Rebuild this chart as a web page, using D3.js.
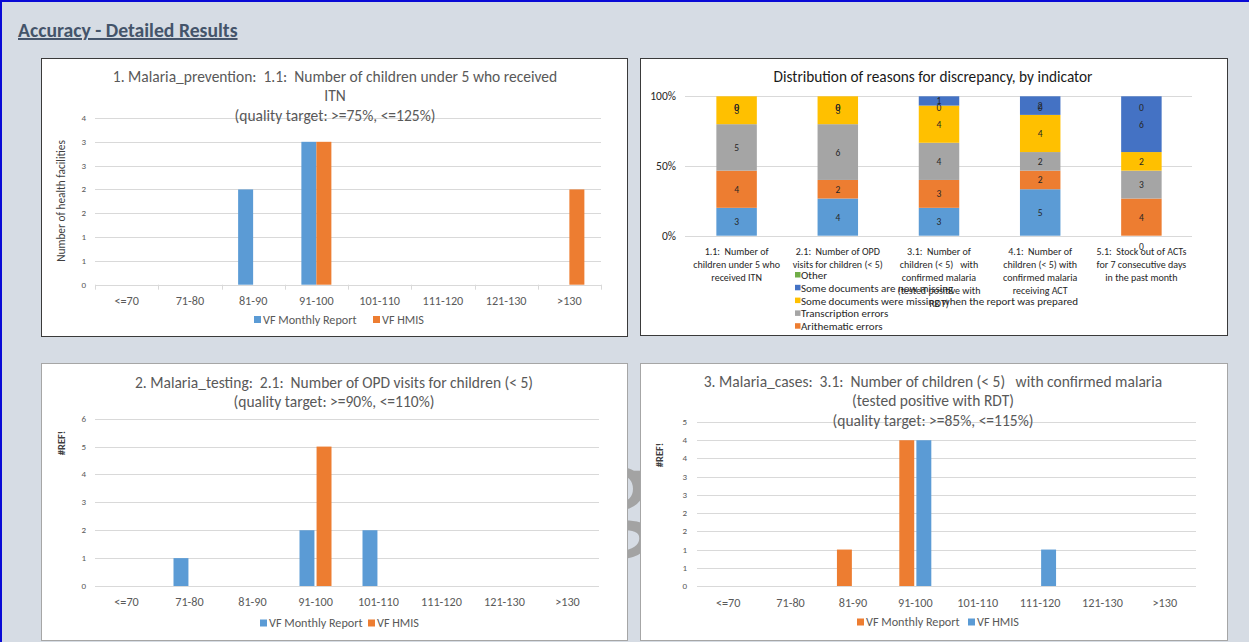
<!DOCTYPE html>
<html><head><meta charset="utf-8">
<script src="https://cdn.jsdelivr.net/npm/d3@7"></script>
<style>
body{margin:0;background:#d6dce4;}
svg{display:block;}
text{font-family:Carlito,Lato,"Noto Sans",sans-serif;white-space:pre;}
</style>
</head><body>
<svg id="c" width="1249" height="642"></svg>
<script>
// ---------------- DATA ----------------
const bins = ["<=70","71-80","81-90","91-100","101-110","111-120","121-130",">130"];

// Chart 1: Malaria_prevention
const c1Title = ["1. Malaria_prevention:  1.1:  Number of children under 5 who received","ITN","(quality target: >=75%, <=125%)"];
const c1SeriesNames = ["VF Monthly Report","VF HMIS"];
const c1Monthly = [0,0,2,3,0,0,0,0];
const c1Hmis    = [0,0,0,3,0,0,0,2];
const c1YTicks = [0,0.5,1,1.5,2,2.5,3,3.5];
const c1YTickLabels = ["0","1","1","2","2","3","3","4"];
const c1YLabel = "Number of health facilities";

// Chart 2: Malaria_testing
const c2Title = ["2. Malaria_testing:  2.1:  Number of OPD visits for children (< 5)","(quality target: >=90%, <=110%)"];
const c2SeriesNames = ["VF Monthly Report","VF HMIS"];
const c2Monthly = [0,1,0,2,2,0,0,0];
const c2Hmis    = [0,0,0,5,0,0,0,0];
const c2YTicks = [0,1,2,3,4,5,6];
const c2YTickLabels = ["0","1","2","3","4","5","6"];
const c2YLabel = "#REF!";

// Chart 3: Malaria_cases
const c3Title = ["3. Malaria_cases:  3.1:  Number of children (< 5)   with confirmed malaria","(tested positive with RDT)","(quality target: >=85%, <=115%)"];
const c3SeriesNames = ["VF Monthly Report","VF HMIS"];
const c3Monthly = [0,0,1,4,0,0,0,0];
const c3Hmis    = [0,0,0,4,0,1,0,0];
const c3YTicks = [0,0.5,1,1.5,2,2.5,3,3.5,4,4.5];
const c3YTickLabels = ["0","1","1","2","2","3","3","4","4","5"];
const c3YLabel = "#REF!";

// Stacked chart: reasons for discrepancy
const stackTitle = "Distribution of reasons for discrepancy, by indicator";
const indicatorLines = [
  ["1.1:  Number of","children under 5 who","received ITN"],
  ["2.1:  Number of OPD","visits for children (< 5)"],
  ["3.1:  Number of","children (< 5)   with","confirmed malaria","(tested positive with","RDT)"],
  ["4.1:  Number of","children (< 5) with","confirmed malaria","receiving ACT"],
  ["5.1:  Stock out of ACTs","for 7 consecutive days","in the past month"]
];
const reasonNames = ["Data entry errors","Arithematic errors","Transcription errors","Some documents were missing when the report was prepared","Some documents are now missing","Other"];
const reasonDataEntry   = [3,4,3,5,0];
const reasonArithmetic  = [4,2,3,2,4];
const reasonTranscript  = [5,6,4,2,3];
const reasonWereMissing = [3,3,4,4,2];
const reasonNowMissing  = [0,0,1,2,6];
const reasonOther       = [0,0,0,0,0];
const stackYTicks = [0,0.5,1];
const stackYTickLabels = ["0%","50%","100%"];

// ---------------- STYLE ----------------
const BLUE="#5b9bd5", ORANGE="#ed7d31", GREY="#a5a5a5", YELLOW="#ffc000", DBLUE="#4472c4", GREEN="#70ad47";
const svg = d3.select("#c");

svg.append("rect").attr("width",1249).attr("height",642).attr("fill","#d6dce4");
// watermark glyph behind panels
svg.append("text").attr("x",588).attr("y",535).attr("font-size",140).attr("fill","#a3a3a3").text("g");
svg.append("rect").attr("x",0).attr("y",0).attr("width",2).attr("height",642).attr("fill","#0a0ad6");
svg.append("rect").attr("x",0).attr("y",0).attr("width",1249).attr("height",2).attr("fill","#0a0ad6");
svg.append("text").attr("x",18).attr("y",37).attr("font-size",19.7).attr("font-weight","bold")
  .attr("fill","#44546a").attr("text-decoration","underline").text("Accuracy - Detailed Results");

let clipId = 0;
function panel(box, border){
  const [bx,by,bw,bh]=box;
  const id="clip"+(clipId++);
  svg.append("clipPath").attr("id",id).append("rect").attr("x",bx).attr("y",by).attr("width",bw).attr("height",bh);
  svg.append("rect").attr("x",bx+0.5).attr("y",by+0.5).attr("width",bw).attr("height",bh)
    .attr("fill","#fff").attr("stroke",border).attr("stroke-width",1);
  return svg.append("g").attr("clip-path",`url(#${id})`);
}

function histogram(cfg){
  const g = panel(cfg.box, cfg.border);
  const x = d3.scaleBand().domain(bins).range([cfg.x0,cfg.x1]);
  const y = d3.scaleLinear().domain([0,d3.max(cfg.yTicks)]).range([cfg.y0,cfg.y1]);
  g.selectAll(null).data(cfg.yTicks.slice(1)).join("line")
    .attr("x1",cfg.x0).attr("x2",cfg.x1).attr("y1",d=>Math.round(y(d))+0.5).attr("y2",d=>Math.round(y(d))+0.5)
    .attr("stroke","#d9d9d9").attr("stroke-width",1);
  g.append("line").attr("x1",cfg.x0).attr("x2",cfg.x1).attr("y1",Math.round(cfg.y0)+0.5).attr("y2",Math.round(cfg.y0)+0.5)
    .attr("stroke","#d9d9d9");
  if(cfg.xTicks){
    g.selectAll(null).data(d3.range(bins.length+1)).join("line")
      .attr("x1",i=>Math.round(cfg.x0+i*x.step())+0.5).attr("x2",i=>Math.round(cfg.x0+i*x.step())+0.5)
      .attr("y1",cfg.y0).attr("y2",cfg.y0+5).attr("stroke","#d9d9d9");
  }
  g.selectAll(null).data(cfg.yTicks).join("text")
    .attr("x",cfg.yLabX).attr("y",d=>y(d)+3).attr("text-anchor","end")
    .attr("font-size",9).attr("fill","#595959").text((d,i)=>cfg.yTickLabels[i]);
  g.selectAll(null).data(bins).join("text")
    .attr("x",d=>x(d)+x.bandwidth()/2).attr("y",cfg.xLabY).attr("text-anchor","middle")
    .attr("font-size",12.2).attr("fill","#595959").text(d=>d);
  const inner = d3.scaleBand().domain(d3.range(cfg.series.length))
    .range([x.bandwidth()/2-cfg.groupW/2, x.bandwidth()/2+cfg.groupW/2]).paddingInner(cfg.innerPad);
  cfg.series.forEach((s,si)=>{
    g.selectAll(null).data(s.values.map((v,i)=>({v,i})).filter(d=>d.v>0)).join("rect")
      .attr("x",d=>x(bins[d.i])+inner(si)).attr("width",inner.bandwidth())
      .attr("y",d=>y(d.v)).attr("height",d=>y(0)-y(d.v)).attr("fill",s.color);
  });
  g.selectAll(null).data(cfg.title).join("text")
    .attr("x",cfg.titleX).attr("y",(d,i)=>cfg.titleY+i*19.3).attr("text-anchor","middle")
    .attr("font-size",15.5).attr("fill","#595959").text(d=>d);
  g.append("text").attr("transform",`translate(${cfg.yTitleX},${cfg.yTitleY}) rotate(-90)`)
    .attr("text-anchor","middle").attr("font-size",cfg.yTitleSize).attr("font-weight",cfg.yTitleWeight)
    .attr("fill","#404040").text(cfg.yTitle);
  cfg.series.forEach((s,si)=>{
    const lx = cfg.legendX[si];
    g.append("rect").attr("x",lx).attr("y",cfg.legendY-3.5).attr("width",7).attr("height",7).attr("fill",s.color);
    g.append("text").attr("x",lx+9).attr("y",cfg.legendY+4.3).attr("font-size",12.2).attr("fill","#595959").text(s.name);
  });
}

histogram({
  box:[41,58,586,278], border:"#3a3a3a",
  x0:95, x1:601, y0:284.7, y1:118,
  yTicks:c1YTicks, yTickLabels:c1YTickLabels, yLabX:86,
  xLabY:304.5, xTicks:true, groupW:30, innerPad:0,
  series:[{name:c1SeriesNames[0],values:c1Monthly,color:BLUE},{name:c1SeriesNames[1],values:c1Hmis,color:ORANGE}],
  title:c1Title, titleX:335, titleY:82,
  yTitle:c1YLabel, yTitleX:65, yTitleY:201, yTitleSize:11.3, yTitleWeight:"normal",
  legendX:[254,373], legendY:319.5
});

histogram({
  box:[41,363,586,277], border:"#a6a6a6",
  x0:95, x1:599, y0:586, y1:418.7,
  yTicks:c2YTicks, yTickLabels:c2YTickLabels, yLabX:86,
  xLabY:605.5, xTicks:false, groupW:32, innerPad:0.125,
  series:[{name:c2SeriesNames[0],values:c2Monthly,color:BLUE},{name:c2SeriesNames[1],values:c2Hmis,color:ORANGE}],
  title:c2Title, titleX:334, titleY:388,
  yTitle:c2YLabel, yTitleX:65, yTitleY:443, yTitleSize:10.5, yTitleWeight:"bold",
  legendX:[260,368], legendY:623
});

histogram({
  box:[640,363,587,277], border:"#a6a6a6",
  x0:697, x1:1196, y0:586, y1:422,
  yTicks:c3YTicks, yTickLabels:c3YTickLabels, yLabX:687,
  xLabY:606.5, xTicks:false, groupW:32, innerPad:0.125,
  series:[{name:c3SeriesNames[0],values:c3Monthly,color:ORANGE},{name:c3SeriesNames[1],values:c3Hmis,color:BLUE}],
  title:c3Title, titleX:933, titleY:387,
  yTitle:c3YLabel, yTitleX:663, yTitleY:455, yTitleSize:10.5, yTitleWeight:"bold",
  legendX:[857,968], legendY:622
});

// ---------------- STACKED CHART ----------------
(function(){
  const g = panel([640,58,587,277], "#3a3a3a");
  const x0=686, x1=1192, y0=235.7, y1=96.3;
  const x = d3.scaleBand().domain(d3.range(indicatorLines.length)).range([x0,x1]).paddingInner(0.6).paddingOuter(0.3);
  const y = d3.scaleLinear().domain([0,1]).range([y0,y1]);
  const seriesVals = [reasonDataEntry,reasonArithmetic,reasonTranscript,reasonWereMissing,reasonNowMissing,reasonOther];
  const colors = [BLUE,ORANGE,GREY,YELLOW,DBLUE,GREEN];
  const rows = indicatorLines.map((l,i)=>{
    const o={i}; seriesVals.forEach((s,k)=>o["s"+k]=s[i]); return o;
  });
  const stack = d3.stack().keys(seriesVals.map((s,k)=>"s"+k)).offset(d3.stackOffsetExpand)(rows);
  g.selectAll(null).data(stackYTicks).join("line")
    .attr("x1",685).attr("x2",1192).attr("y1",d=>Math.round(y(d))+0.5).attr("y2",d=>Math.round(y(d))+0.5)
    .attr("stroke","#d9d9d9");
  g.selectAll(null).data(stackYTicks).join("text")
    .attr("x",676).attr("y",d=>y(d)+4).attr("text-anchor","end").attr("font-size",11.5).attr("fill","#262626")
    .text((d,i)=>stackYTickLabels[i]);
  stack.forEach((layer,k)=>{
    g.selectAll(null).data(layer).join("rect")
      .attr("x",d=>x(d.data.i)).attr("width",x.bandwidth())
      .attr("y",d=>y(d[1])).attr("height",d=>y(d[0])-y(d[1])).attr("fill",colors[k]);
  });
  stack.forEach((layer,k)=>{
    g.selectAll(null).data(layer).join("text")
      .attr("x",d=>x(d.data.i)+x.bandwidth()/2)
      .attr("y",d=>{
        const v=d.data["s"+k];
        if(v>0) return y((d[0]+d[1])/2)+3.5;
        return d[0]===0 ? y0+14.5 : y1+15;
      })
      .attr("text-anchor","middle").attr("font-size",9.5).attr("fill","#262626")
      .text(d=>d.data["s"+k]);
  });
  indicatorLines.forEach((lines,i)=>{
    g.selectAll(null).data(lines).join("text")
      .attr("x",x(i)+x.bandwidth()/2).attr("y",(d,j)=>255+j*13).attr("text-anchor","middle")
      .attr("font-size",10).attr("fill","#262626").text(d=>d);
  });
  g.append("text").attr("x",933).attr("y",82).attr("text-anchor","middle").attr("font-size",15.3)
    .attr("fill","#1a1a1a").text(stackTitle);
  const legendOrder = d3.range(reasonNames.length).reverse();
  legendOrder.forEach((k,j)=>{
    const ly = 275+j*12.8;
    g.append("rect").attr("x",795).attr("y",ly-3).attr("width",5.5).attr("height",5.5).attr("fill",colors[k]);
    g.append("text").attr("x",801).attr("y",ly+4).attr("font-size",11).attr("fill","#262626").text(reasonNames[k]);
  });
})();
</script>
</body></html>
